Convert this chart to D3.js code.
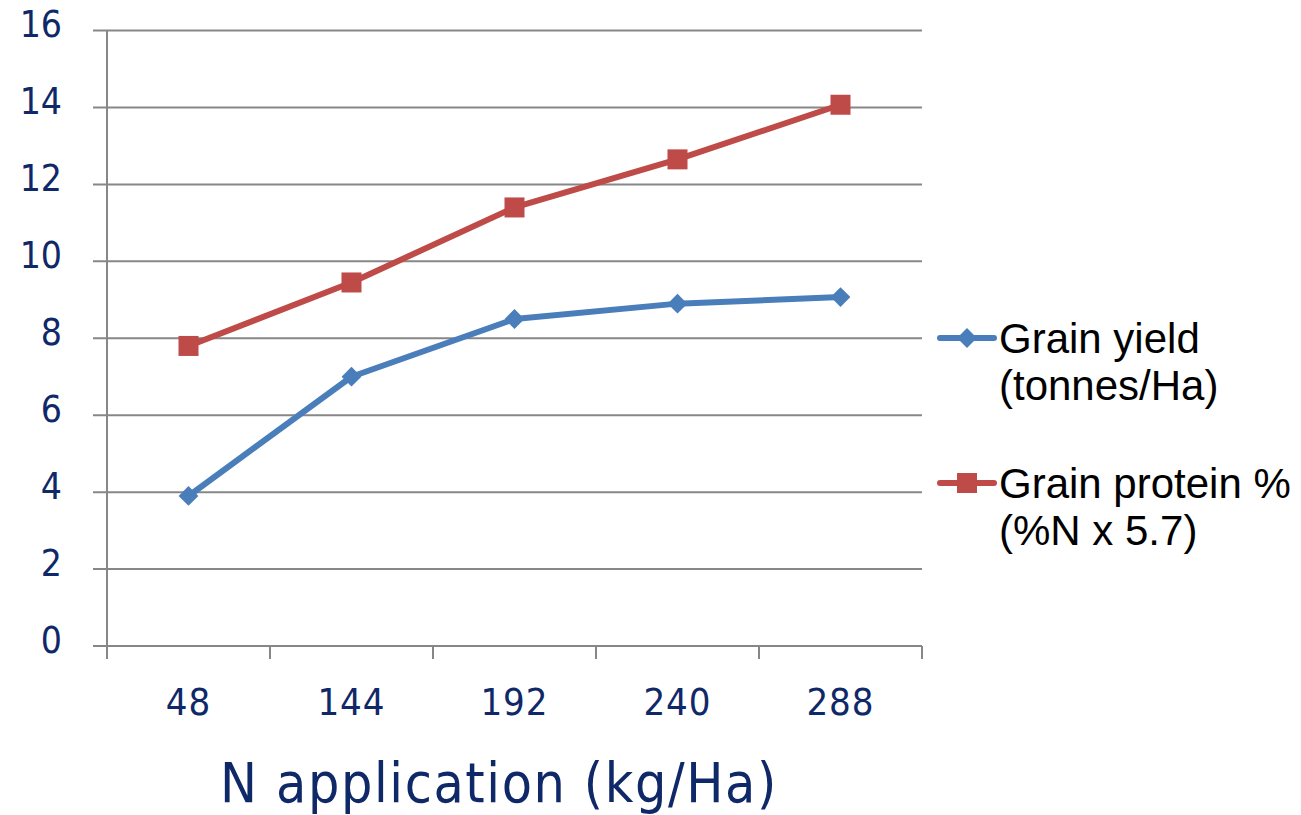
<!DOCTYPE html>
<html>
<head>
<meta charset="utf-8">
<script src="https://cdn.jsdelivr.net/npm/d3@7"></script>
<style>
  html, body { margin: 0; padding: 0; background: #fff; }
  svg { display: block; }
  .tick-label { font-family: "DejaVu Sans Condensed", "DejaVu Sans", sans-serif; fill: #0f2868; }
  .legend-text { font-family: "Liberation Sans", Arial, sans-serif; fill: #000; font-size: 42px; }
</style>
</head>
<body>
<svg id="chart" width="1301" height="815"></svg>
<script>
// N application rates (kg/Ha)
const categories = ["48", "144", "192", "240", "288"];
// Grain yield (tonnes/Ha)
const grainYield = [3.9, 7.0, 8.5, 8.9, 9.07];
// Grain protein % (%N x 5.7)
const grainProtein = [7.8, 9.45, 11.4, 12.65, 14.07];
const yTicks = [0, 2, 4, 6, 8, 10, 12, 14, 16];

const seriesNames = [["Grain yield", "(tonnes/Ha)"], ["Grain protein %", "(%N x 5.7)"]];
const seriesColors = ["#4a7ebb", "#be4b48"];

const svg = d3.select("#chart");
const plot = { left: 107, right: 922, top: 30.5, bottom: 646 };

const x = d3.scaleBand().domain(categories).range([plot.left, plot.right]);
const y = d3.scaleLinear().domain([0, 16]).range([plot.bottom, plot.top]);

const gridColor = "#878787";

// Horizontal gridlines with short left ticks
svg.append("g").selectAll("line").data(yTicks).join("line")
  .attr("x1", plot.left - 14).attr("x2", plot.right)
  .attr("y1", d => y(d)).attr("y2", d => y(d))
  .attr("stroke", gridColor).attr("stroke-width", 2);

// Vertical axis line
svg.append("line")
  .attr("x1", plot.left).attr("x2", plot.left)
  .attr("y1", plot.top).attr("y2", plot.bottom + 13)
  .attr("stroke", gridColor).attr("stroke-width", 2);

// Category boundary ticks below the axis
const boundaries = categories.map(c => x(c)).concat([plot.right]);
svg.append("g").selectAll("line").data(boundaries).join("line")
  .attr("x1", d => d).attr("x2", d => d)
  .attr("y1", plot.bottom).attr("y2", plot.bottom + 13)
  .attr("stroke", gridColor).attr("stroke-width", 2);

// Y tick labels
svg.append("g").selectAll("text").data(yTicks).join("text")
  .attr("class", "tick-label")
  .attr("x", 62).attr("y", d => y(d) - 6)
  .attr("text-anchor", "end").attr("dominant-baseline", "central")
  .attr("font-size", 37)
  .text(d => d);

// X tick labels
svg.append("g").selectAll("text").data(categories).join("text")
  .attr("class", "tick-label")
  .attr("x", d => x(d) + x.bandwidth() / 2).attr("y", 715)
  .attr("text-anchor", "middle")
  .attr("font-size", 38)
  .attr("letter-spacing", 1)
  .text(d => d);

// X axis title
svg.append("text")
  .attr("class", "tick-label")
  .attr("x", 499).attr("y", 802)
  .attr("text-anchor", "middle")
  .attr("font-size", 55)
  .attr("letter-spacing", 1.6)
  .text("N application (kg/Ha)");

const cx = d => x(d) + x.bandwidth() / 2;
const line = d3.line().x(d => cx(d.c)).y(d => y(d.v));

const seriesData = [grainYield, grainProtein].map(vals => vals.map((v, i) => ({ c: categories[i], v })));

function drawMarker(g, idx, px, py) {
  if (idx === 0) {
    g.append("rect")
      .attr("x", -7).attr("y", -7).attr("width", 14).attr("height", 14)
      .attr("transform", `translate(${px},${py}) rotate(45)`)
      .attr("fill", seriesColors[0]);
  } else {
    g.append("rect")
      .attr("x", px - 10).attr("y", py - 10).attr("width", 20).attr("height", 20)
      .attr("fill", seriesColors[1]);
  }
}

seriesData.forEach((data, idx) => {
  const g = svg.append("g");
  g.append("path").datum(data)
    .attr("d", line)
    .attr("fill", "none")
    .attr("stroke", seriesColors[idx])
    .attr("stroke-width", 6)
    .attr("stroke-linejoin", "round");
  data.forEach(d => drawMarker(g, idx, cx(d.c), y(d.v)));
});

// Legend
const legendY = [338, 483];
seriesNames.forEach((names, idx) => {
  const g = svg.append("g");
  g.append("line")
    .attr("x1", 940).attr("x2", 994)
    .attr("y1", legendY[idx]).attr("y2", legendY[idx])
    .attr("stroke", seriesColors[idx]).attr("stroke-width", 6)
    .attr("stroke-linecap", "round");
  drawMarker(g, idx, 967, legendY[idx]);
  names.forEach((t, j) => {
    g.append("text")
      .attr("class", "legend-text")
      .attr("x", 999).attr("y", legendY[idx] + 15 + j * 47)
      .text(t);
  });
});
</script>
</body>
</html>
